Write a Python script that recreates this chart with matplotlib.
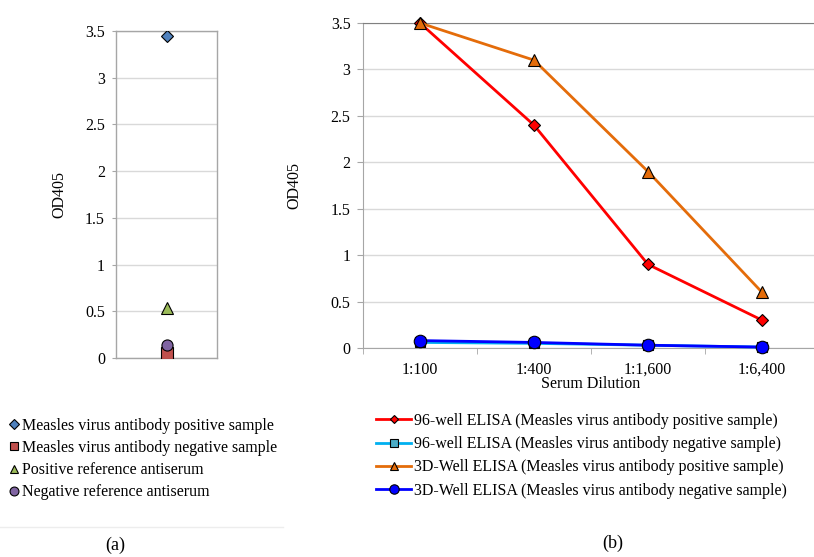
import numpy as np
import matplotlib
matplotlib.use('Agg')
import matplotlib.pyplot as plt
from matplotlib.lines import Line2D

plt.rcParams['font.family'] = ['Liberation Serif', 'DejaVu Serif']
FS = 11.5

# panel (a) data
a_labels = ['Measles virus antibody positive sample',
            'Measles virus antibody negative sample',
            'Positive reference antiserum',
            'Negative reference antiserum']
a_values = [3.45, 0.05, 0.53, 0.14]
a_markers = ['D', 's', '^', 'o']
a_colors = ['#4F81BD', '#C0504D', '#9BBB59', '#8064A2']
a_sizes = [6, 8, 8, 8]

# panel (b) data
dilutions = ['1:100', '1:400', '1:1,600', '1:6,400']
b_labels = ['96-well ELISA (Measles virus antibody positive sample)',
            '96-well ELISA (Measles virus antibody negative sample)',
            '3D-Well ELISA (Measles virus antibody positive sample)',
            '3D-Well ELISA (Measles virus antibody negative sample)']
well96_pos = [3.5, 2.4, 0.9, 0.3]
well96_neg = [0.06, 0.05, 0.03, 0.01]
well3d_pos = [3.5, 3.1, 1.9, 0.6]
well3d_neg = [0.08, 0.06, 0.03, 0.01]
b_series = [well96_pos, well96_neg, well3d_pos, well3d_neg]
b_colors = ['#FF0000', '#00B0F0', '#E46C0A', '#0000FF']
b_mfc = ['#FF0000', '#4BACC6', '#E46C0A', '#0000FF']
b_markers = ['D', 's', '^', 'o']
b_msize = [6, 7, 8, 9]

W, H = 814, 557
fig = plt.figure(figsize=(W / 100, H / 100), dpi=100)

def frac(x0, y0, x1, y1):
    return [x0 / W, 1 - y1 / H, (x1 - x0) / W, (y1 - y0) / H]

grid_c = '#D9D9D9'
axis_c = '#A6A6A6'

# ---- panel (a)
ax1 = fig.add_axes(frac(116, 31, 217, 358))
handles_a = []
for v, m, c, s, lab in zip(a_values, a_markers, a_colors, a_sizes, a_labels):
    h, = ax1.plot([0], [v], linestyle='none', marker=m, markersize=s,
                  markerfacecolor=c, markeredgecolor='black', markeredgewidth=0.8,
                  label=lab, zorder=3)
    handles_a.append(h)
ax1.set_xlim(-0.5, 0.5)
ax1.set_ylim(0, 3.5)
ax1.set_yticks(np.arange(0, 3.51, 0.5))
ax1.set_yticklabels(['0', '0.5', '1', '1.5', '2', '2.5', '3', '3.5'])
ax1.set_xticks([])
ax1.yaxis.grid(True, color=grid_c, linewidth=1.0)
ax1.set_axisbelow(True)
for sp in ax1.spines.values():
    sp.set_color(axis_c)
    sp.set_linewidth(1.0)
ax1.tick_params(axis='y', length=3, color=axis_c, labelsize=FS, pad=5)
ax1.set_ylabel('OD405', fontsize=FS, labelpad=13)

fig.legend(handles=handles_a, loc='upper left', bbox_to_anchor=(9 / W, 1 - 418 / H),
           frameon=False, fontsize=FS, handlelength=0.6, handletextpad=0.2,
           labelspacing=0.38, borderaxespad=0, borderpad=0, markerscale=0.8)
fig.add_artist(Line2D([0, 283 / W], [1 - 527 / H, 1 - 527 / H], color='#EDEDED',
                      linewidth=1.0))
fig.text(115 / W, 1 - 545 / H, '(a)', ha='center', va='center', fontsize=FS + 1.5)

# ---- panel (b)
ax2 = fig.add_axes(frac(363, 23, 819, 348))
x = np.arange(len(dilutions))
handles_b = []
for ys, c, mfc, m, ms, lab in zip(b_series, b_colors, b_mfc, b_markers, b_msize, b_labels):
    h, = ax2.plot(x, ys, color=c, linewidth=2.0, marker=m, markersize=ms,
                  markerfacecolor=mfc, markeredgecolor='black', markeredgewidth=0.8,
                  label=lab, zorder=3, clip_on=False)
    handles_b.append(h)
ax2.set_xlim(-0.5, len(dilutions) - 0.5)
ax2.set_ylim(0, 3.5)
ax2.set_xticks(x)
ax2.set_xticklabels(dilutions)
ax2.set_xticks(np.arange(-0.5, len(dilutions), 1.0), minor=True)
ax2.set_yticks(np.arange(0, 3.51, 0.5))
ax2.set_yticklabels(['0', '0.5', '1', '1.5', '2', '2.5', '3', '3.5'])
ax2.yaxis.grid(True, color=grid_c, linewidth=1.0)
ax2.set_axisbelow(True)
for sp in ['left', 'bottom']:
    ax2.spines[sp].set_color(axis_c)
ax2.spines['top'].set_color('#808080')
ax2.spines['right'].set_visible(False)
ax2.tick_params(axis='x', which='major', length=0, labelsize=FS, pad=10)
ax2.tick_params(axis='x', which='minor', length=4, color=axis_c)
ax2.tick_params(axis='y', length=4, color=axis_c, labelsize=FS, pad=5)
ax2.set_xlabel('Serum Dilution', fontsize=FS, labelpad=-1)
ax2.set_ylabel('OD405', fontsize=FS, labelpad=20)

fig.legend(handles=handles_b, loc='upper left', bbox_to_anchor=(376 / W, 1 - 413 / H),
           frameon=False, fontsize=FS, handlelength=2.2, handletextpad=0.15,
           labelspacing=0.45, borderaxespad=0, borderpad=0, markerscale=0.75)
fig.text(613 / W, 1 - 543 / H, '(b)', ha='center', va='center', fontsize=FS + 1.5)

fig.savefig('out.png', dpi=100)
